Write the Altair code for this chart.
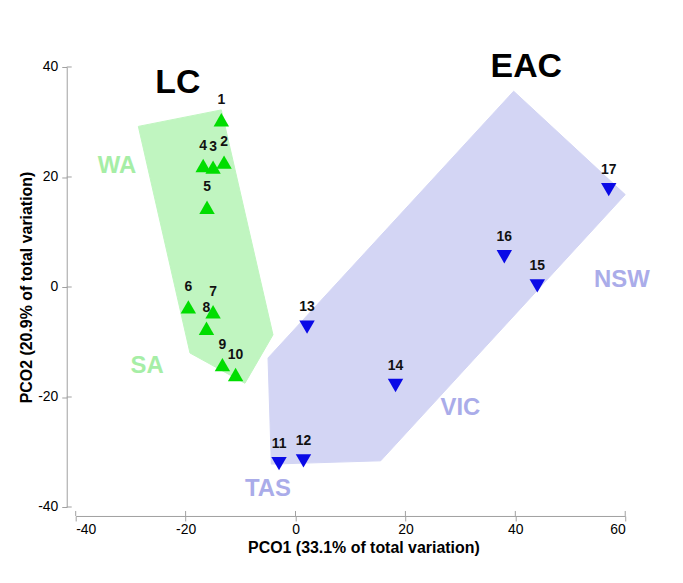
import altair as alt
import pandas as pd

# Sample points (PCO1, PCO2)
site_ids = [str(i) for i in range(1, 18)]
pco1 = [-13.5, -13.0, -15.0, -16.8, -16.1, -19.5, -15.0, -16.2, -13.3, -10.9,
        -3.0, 1.45, 2.1, 18.2, 44.0, 38.0, 57.0]
pco2 = [30.4, 22.7, 21.8, 22.1, 14.5, -3.6, -4.5, -7.5, -14.1, -15.9,
        -32.1, -31.6, -7.3, -17.9, 0.2, 5.5, 17.7]
current = ["LC"] * 10 + ["EAC"] * 7

# Hull polygons
lc_hull_x = [-28.6, -13.5, -4.1, -9.2, -19.2, -28.6]
lc_hull_y = [29.2, 32.2, -8.7, -17.5, -12.0, 29.2]
eac_hull_x = [39.7, 60.0, 15.5, -4.4, -5.0, 39.7]
eac_hull_y = [35.6, 16.8, -31.6, -32.2, -12.9, 35.6]

# Region labels
region_names = ["WA", "SA", "TAS", "VIC", "NSW"]
region_x = [-32.5, -27.0, -5.0, 30.0, 59.4]
region_y = [22.0, -14.3, -36.8, -22.0, 1.3]
region_group = ["LC", "LC", "EAC", "EAC", "EAC"]

# Current labels
current_names = ["LC", "EAC"]
current_x = [-21.4, 42.0]
current_y = [37.0, 40.0]

x_ticks = [-40, -20, 0, 20, 40, 60]
y_ticks = [-40, -20, 0, 20, 40]

FONT = "Liberation Sans"
AX = "#a0a0a0"

pts = pd.DataFrame({"id": site_ids, "x": pco1, "y": pco2, "cur": current})
lc = pd.DataFrame({"x": lc_hull_x, "y": lc_hull_y, "o": range(len(lc_hull_x))})
eac = pd.DataFrame({"x": eac_hull_x, "y": eac_hull_y, "o": range(len(eac_hull_x))})
regions = pd.DataFrame({"name": region_names, "x": region_x, "y": region_y, "g": region_group})
curs = pd.DataFrame({"name": current_names, "x": current_x, "y": current_y})
xt = pd.DataFrame({"x": x_ticks})
yt = pd.DataFrame({"y": y_ticks})

W, H = 552, 442
xscale = alt.Scale(domain=[-40, 60], nice=False, zero=False)
yscale = alt.Scale(domain=[-40, 40], nice=False, zero=False)

xenc = alt.X("x:Q", scale=xscale, axis=alt.Axis(
    title="PCO1 (33.1% of total variation)", values=x_ticks, offset=9,
    labelExpr="'' + datum.value",
    grid=False, domainColor=AX, tickColor=AX, tickSize=5,
    labelFontSize=14, labelColor="#000", labelFont=FONT,
    titleFont=FONT, titleFontSize=16, titleFontWeight="bold", titleColor="#000",
    titlePadding=3, labelPadding=2, titleX=289))
yenc = alt.Y("y:Q", scale=yscale, axis=alt.Axis(
    title="PCO2 (20.9% of total variation)", values=y_ticks, offset=9,
    labelExpr="'' + datum.value",
    grid=False, domainColor=AX, tickColor=AX, tickSize=5,
    labelFontSize=14, labelColor="#000", labelFont=FONT,
    titleFont=FONT, titleFontSize=16, titleFontWeight="bold", titleColor="#000",
    titlePadding=3, labelPadding=4))

xp = alt.X("x:Q", scale=xscale)
yp = alt.Y("y:Q", scale=yscale)

lc_poly = alt.Chart(lc).mark_line(fill="#c0f5c0", stroke="#c0f5c0", fillOpacity=1, strokeWidth=1).encode(
    x=xenc, y=yenc, order="o:Q")
eac_poly = alt.Chart(eac).mark_line(fill="#d3d5f4", stroke="#d3d5f4", fillOpacity=1, strokeWidth=1).encode(
    x=xp, y=yp, order="o:Q")

# inner halves of the axis ticks (ticks cross the axis line)
xticks_in = alt.Chart(xt).mark_rule(color=AX, strokeWidth=1).encode(
    x=xp, y=alt.value(H + 9), y2=alt.value(H + 4))
yticks_in = alt.Chart(yt).mark_rule(color=AX, strokeWidth=1).encode(
    y=yp, x=alt.value(-9), x2=alt.value(-4))

lc_pts = alt.Chart(pts[pts.cur == "LC"]).mark_point(
    shape="triangle-up", filled=True, size=240, color="#00dd00", opacity=1).encode(x=xp, y=yp)
eac_pts = alt.Chart(pts[pts.cur == "EAC"]).mark_point(
    shape="triangle-down", filled=True, size=240, color="#0a0ae6", opacity=1).encode(x=xp, y=yp)

pt_labels = alt.Chart(pts).mark_text(
    font=FONT, fontSize=14, fontWeight="bold", color="#111", dy=-20).encode(
    x=xp, y=yp, text="id:N")

reg_labels = alt.Chart(regions).mark_text(
    font=FONT, fontSize=24, fontWeight="bold").encode(
    x=xp, y=yp, text="name:N",
    color=alt.Color("g:N", scale=alt.Scale(domain=["LC", "EAC"], range=["#a6eea6", "#aaace9"]), legend=None))

cur_labels = alt.Chart(curs).mark_text(
    font=FONT, fontSize=34, fontWeight="bold", color="#000").encode(
    x=xp, y=yp, text="name:N")

chart = alt.layer(lc_poly, eac_poly, xticks_in, yticks_in, lc_pts, eac_pts,
                  pt_labels, reg_labels, cur_labels).properties(
    width=W, height=H,
    autosize=alt.AutoSizeParams(type="none"),
    padding={"left": 68, "top": 58, "right": 50, "bottom": 60},
).configure(background="#ffffff").configure_view(stroke=None)

chart.save("out.html", embed_options={"renderer": "svg", "actions": False})
